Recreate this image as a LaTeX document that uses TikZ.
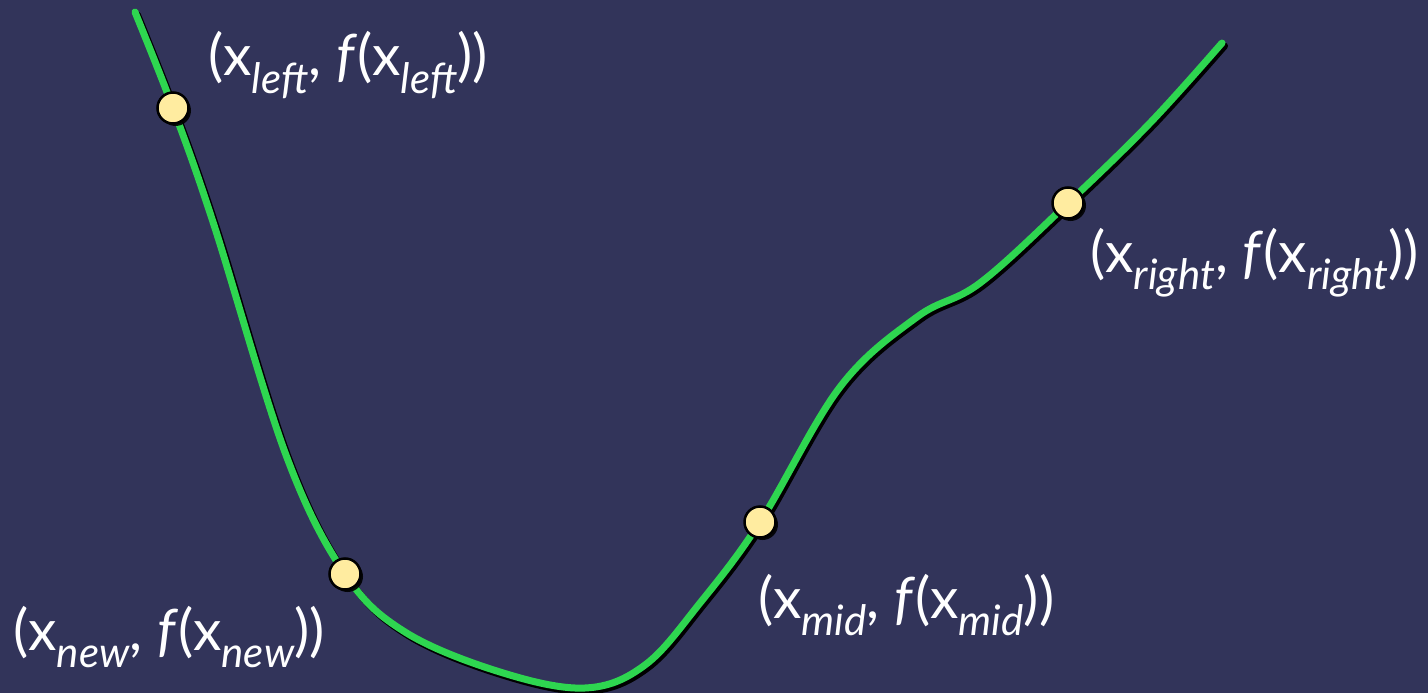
\documentclass[tikz,border=0pt]{standalone}
\usepackage{fontspec}
\setmainfont{Lato}
\usetikzlibrary{positioning, shadows}
\definecolor{slate}{RGB}{50,52,90}
\definecolor{curvegreen}{RGB}{46,214,80}
\definecolor{dotfill}{RGB}{255,236,160}
\newcommand{\lowsub}[1]{\raisebox{-0.6ex}{\fontsize{42}{44}\selectfont\itshape #1}}
\newcommand{\ptlabel}[1]{(x\lowsub{#1}, \textit{f}(x\lowsub{#1}))}
\begin{document}
\begin{tikzpicture}[x=1pt, y=-1pt,
		dot/.style={circle, draw=black, fill=dotfill, line width=2.5pt,
			minimum size=31pt, inner sep=0pt,
			drop shadow={shadow xshift=2.5pt, shadow yshift=-2.5pt, fill=black, opacity=0.9}},
		lbl/.style={text=white, font=\fontsize{57}{60}\selectfont, inner sep=0pt},
		fcurve/.style={curvegreen, line width=7pt, line cap=round},
		fshadow/.style={black, line width=7pt, line cap=round,
			transform canvas={shift={(2.5pt,-3pt)}}}
		]
		\fill[slate] (0,0) rectangle (1428,693);
		% points on the curve
		\coordinate (start) at (135,12);
		\coordinate (pleft) at (173,108);
		\coordinate (c1) at (214,225);
		\coordinate (c2) at (286,455);
		\coordinate (pnew) at (345,574);
		\coordinate (c4) at (405,632);
		\coordinate (c5) at (500,672);
		\coordinate (c6) at (585,688);
		\coordinate (c7) at (645,665);
		\coordinate (c8) at (700,603);
		\coordinate (pmid) at (760,522);
		\coordinate (c9) at (840,387);
		\coordinate (c10) at (917,317);
		\coordinate (c11) at (980,283);
		\coordinate (pright) at (1068,203);
		\coordinate (c13) at (1150,123);
		\coordinate (stop) at (1222,43);

		\draw[fshadow] plot[smooth, tension=0.6] coordinates {(start) (pleft) (c1) (c2) (pnew) (c4) (c5) (c6) (c7) (c8) (pmid) (c9) (c10) (c11) (pright) (c13) (stop)};
		\draw[fcurve] plot[smooth, tension=0.6] coordinates {(start) (pleft) (c1) (c2) (pnew) (c4) (c5) (c6) (c7) (c8) (pmid) (c9) (c10) (c11) (pright) (c13) (stop)};

		\node[dot] (dleft) at (pleft) {};
		\node[dot] (dnew) at (pnew) {};
		\node[dot] (dmid) at (pmid) {};
		\node[dot] (dright) at (pright) {};

		\node[lbl, anchor=base west] (lleft) at (208,76) {\ptlabel{left}};
		\node[lbl, anchor=base west] (lnew) at (13,650) {\ptlabel{new}};
		\node[lbl, anchor=base west] (lmid) at (758,618) {\ptlabel{mid}};
		\node[lbl, anchor=base west] (lright) at (1090,272) {\ptlabel{right}};
	\end{tikzpicture}
\end{document}
